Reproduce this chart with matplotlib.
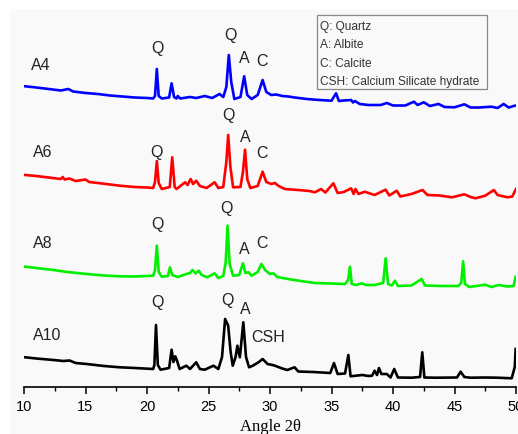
import numpy as np
import matplotlib
matplotlib.use("Agg")
import matplotlib.pyplot as plt
from matplotlib.patches import Rectangle

# XRD patterns: 2theta and intensity (a.u.) above each trace's offset
a4_theta = [10.1, 11.0, 12.0, 13.0, 13.6, 14.0, 15.0, 16.0, 17.0, 18.0, 19.0, 20.0, 20.5, 20.65, 20.8, 20.95,
            21.2, 21.8, 22.0, 22.2, 22.4, 22.5, 22.7, 23.5, 24.0, 24.7, 25.3, 25.9, 26.2, 26.45, 26.65, 26.85,
            27.1, 27.6, 27.9, 28.15, 28.5, 29.0, 29.4, 29.7, 30.1, 30.5, 31.0, 31.5, 32.0, 33.0, 34.0, 35.0,
            35.37, 35.6, 36.0, 36.6, 36.75, 36.9, 37.3, 38.0, 39.0, 39.5, 40.0, 41.0, 41.7, 42.0, 42.5, 43.0,
            43.7, 44.2, 45.0, 45.8, 46.3, 47.0, 48.0, 48.5, 49.0, 49.4, 49.9]
a4_int = [30.7, 29.5, 28, 26.5, 28, 25.5, 24, 23, 21.5, 20.5, 19.5, 19, 18.5, 21, 48, 21,
          18.5, 19.5, 33.7, 20, 18.5, 21, 18.5, 20, 19, 21, 19, 23, 20, 30, 62, 35,
          18, 20, 40.7, 22, 18, 22, 37, 25, 22, 22.5, 21, 20.5, 19.5, 18, 17, 16.3,
          23.7, 16, 16.5, 17, 14.5, 16, 13, 12, 12, 14, 11.5, 11.5, 15.3, 12, 14.7, 11,
          13, 10, 9.7, 12.7, 9.5, 9.5, 10.3, 9, 13, 9.5, 11.3]

a6_theta = [10.1, 11.0, 12.0, 13.0, 13.15, 13.3, 13.7, 14.2, 15.0, 15.3, 16.0, 17.0, 17.8, 19.0, 20.0, 20.5,
            20.65, 20.8, 20.95, 21.2, 21.85, 22.05, 22.25, 22.4, 23.1, 23.3, 23.55, 23.75, 24.0, 24.3, 24.85,
            25.5, 25.8, 26.2, 26.45, 26.6, 26.78, 27.0, 27.6, 27.8, 27.97, 28.15, 28.4, 29.0, 29.4, 29.7,
            30.1, 30.4, 30.7, 31.2, 32.3, 33.2, 33.65, 34.15, 34.5, 35.15, 35.5, 36.0, 36.6, 36.8, 36.95,
            37.2, 37.7, 38.5, 39.4, 39.7, 40.3, 40.6, 41.5, 42.4, 42.8, 43.8, 44.8, 45.8, 46.3, 46.7, 47.5,
            48.2, 48.5, 49.3, 49.7, 50.0]
a6_int = [32, 31, 29.5, 28, 30, 27.5, 28.5, 26, 27.5, 25, 24, 22.5, 21.3, 20, 19.5, 19,
          25, 46, 24, 18, 20, 49.7, 20, 18, 24.7, 22, 28, 23, 26.3, 21, 19,
          24.7, 19, 20, 45, 72, 40, 19.7, 20, 35, 57.3, 28, 19, 21, 35.3, 25,
          23, 24, 21, 18, 17, 16, 14.7, 18, 14.5, 23.7, 14, 15, 18.7, 13, 18,
          13, 15.3, 12, 17.3, 11.5, 16.3, 10.5, 13, 17, 12, 11.5, 9.7, 12.7, 10, 8.7, 11.3,
          17, 12, 9.7, 10.5, 18]

a8_theta = [10.1, 11.0, 12.4, 13.5, 15.1, 16.5, 17.8, 19.0, 20.5, 20.65, 20.8, 20.95, 21.2, 21.7, 21.87, 22.05,
            22.5, 23.2, 23.5, 23.7, 23.95, 24.2, 24.45, 24.9, 25.5, 25.8, 26.2, 26.4, 26.55, 26.72, 27.0,
            27.5, 27.8, 28.0, 28.25, 28.5, 29.0, 29.3, 29.6, 30.0, 30.27, 30.6, 31.8, 32.5, 33.66, 35.0,
            36.1, 36.35, 36.5, 36.65, 37.0, 37.45, 37.8, 38.5, 39.2, 39.4, 39.6, 39.9, 40.16, 40.4, 41.5,
            42.33, 42.6, 44.0, 45.3, 45.55, 45.7, 45.85, 46.2, 47.5, 48.0, 48.6, 49.3, 49.8, 49.97]
a8_int = [25.3, 24, 22, 20, 18, 16.5, 15.7, 15.5, 16.3, 22, 46.3, 20, 15.3, 16, 24.7, 17,
          15, 18, 19, 22, 18.5, 21.3, 17, 14.7, 18.7, 14, 16, 30, 66.3, 28, 16.3,
          17, 28.7, 19, 19.7, 16.3, 20, 28, 22, 18, 18.7, 15, 12.3, 11, 9, 8.5,
          8, 12, 25.3, 8, 7, 8.7, 7, 7, 9, 33.7, 8, 6.5, 11.3, 6, 6.5,
          13, 6.5, 6, 6, 9, 30.7, 8, 5, 7.3, 5, 7, 5.5, 6, 15.3]

a10_theta = [10.1, 11.0, 12.4, 13.2, 13.7, 14.2, 15.1, 16.5, 17.8, 19.0, 20.5, 20.6, 20.73, 20.88, 21.1, 21.8,
             22.0, 22.15, 22.3, 22.45, 22.65, 23.2, 23.5, 24.0, 24.3, 24.7, 25.4, 25.8, 26.1, 26.35, 26.6,
             26.8, 26.97, 27.2, 27.35, 27.55, 27.83, 28.05, 28.3, 28.6, 29.1, 29.4, 29.8, 30.2, 30.4, 30.95,
             31.4, 32.0, 32.3, 33.5, 34.9, 35.2, 35.5, 36.1, 36.37, 36.55, 37.5, 38.0, 38.3, 38.5, 38.7,
             38.86, 39.05, 39.5, 39.8, 40.1, 40.4, 41.5, 42.2, 42.38, 42.55, 43.5, 45.2, 45.5, 45.8, 46.3,
             47.5, 48.5, 49.65, 49.9, 49.97]
a10_int = [29.7, 28.5, 27, 26, 26.5, 24, 23, 21, 19.7, 19, 18, 22, 62, 22, 17.3, 19,
           37.3, 25, 30.7, 26, 18, 21.3, 18, 24.7, 18, 17.3, 21.3, 18, 30, 68, 61.3,
           35, 21.3, 30, 41.3, 29.7, 64.7, 30, 19.7, 21.3, 25, 28, 23, 22, 21.3, 18.7,
           17, 19.7, 15.5, 15, 14, 24, 13, 13.5, 32, 10.7, 12, 11, 11.3, 16.3, 12,
           19, 13, 13, 9.5, 18, 9.5, 9.3, 10, 34.7, 9.5, 9.3, 9.5, 15.3, 10, 9.3,
           9.5, 9.3, 8.7, 20, 38]

samples = ["A4", "A6", "A8", "A10"]
offsets = [270, 180, 95, 0]
colors = ["#0000ff", "#ff0000", "#00f000", "#000000"]
thetas = [a4_theta, a6_theta, a8_theta, a10_theta]
intens = [a4_int, a6_int, a8_int, a10_int]

# sample names and phase letters (2theta, height)
name_pos = [(11.38, 323), (11.54, 236), (11.54, 145), (11.87, 52)]
phase_labels = [
    [("Q", 20.81, 340), ("Q", 26.75, 353), ("A", 27.88, 330), ("C", 29.35, 327)],
    [("Q", 20.73, 236), ("Q", 26.59, 273), ("A", 27.97, 251), ("C", 29.35, 235)],
    [("Q", 20.81, 164), ("Q", 26.42, 180), ("A", 27.89, 138), ("C", 29.35, 145)],
    [("Q", 20.81, 85), ("Q", 26.5, 87), ("A", 27.97, 78), ("CSH", 29.85, 51)],
]
legend_lines = ["Q: Quartz", "A: Albite", "C: Calcite", "CSH: Calcium Silicate hydrate"]

plt.rcParams['font.family'] = ['Liberation Sans', 'DejaVu Sans']

fig = plt.figure(figsize=(5.18, 4.35), dpi=100)
fig.patch.set_facecolor("white")
fig.patches.append(Rectangle((10 / 518, 0), 508 / 518, 425 / 435, transform=fig.transFigure,
                             facecolor="#f9f9f9", edgecolor="none", zorder=-10))

ax = fig.add_axes([24 / 518, 47 / 435, 492 / 518, 378 / 435])
ax.set_facecolor("none")

for th, it, off, c in zip(thetas, intens, offsets, colors):
    ax.plot(th, np.array(it) + off, color=c, lw=1.9, solid_joinstyle="round")

for name, (x, y) in zip(samples, name_pos):
    ax.text(x, y, name, ha="center", va="center", fontsize=11.5, color="#222222")
for labs in phase_labels:
    for t, x, y in labs:
        ax.text(x, y, t, ha="center", va="center", fontsize=11.5, color="#222222")

# phase legend box
ax.add_patch(Rectangle((317 / 518, 1 - 90 / 435), 170 / 518, 74 / 435, transform=fig.transFigure,
                       facecolor="none", edgecolor="#888888", lw=0.9, zorder=5))
for i, s in enumerate(legend_lines):
    fig.text(320 / 518, 1 - (27 + i * 18.3) / 435, s, ha="left", va="center", fontsize=8.6, color="#333333")

ax.set_xlim(10, 50)
ax.set_ylim(0, 378)
for side in ["left", "right", "top"]:
    ax.spines[side].set_visible(False)
ax.spines["bottom"].set_linewidth(1.2)
ax.set_yticks([])
ax.set_xticks(np.arange(10, 51, 5))
ax.set_xticks(np.arange(12.5, 50, 5), minor=True)
ax.tick_params(axis="x", which="major", length=5, width=1.1, direction="out", labelsize=10.5, pad=4)
ax.tick_params(axis="x", which="minor", length=3, width=1.0, direction="out")
ax.set_xlabel("Angle 2θ", family=["Liberation Serif", "DejaVu Serif"], fontsize=12, labelpad=3)

fig.savefig("out.png", dpi=100)
